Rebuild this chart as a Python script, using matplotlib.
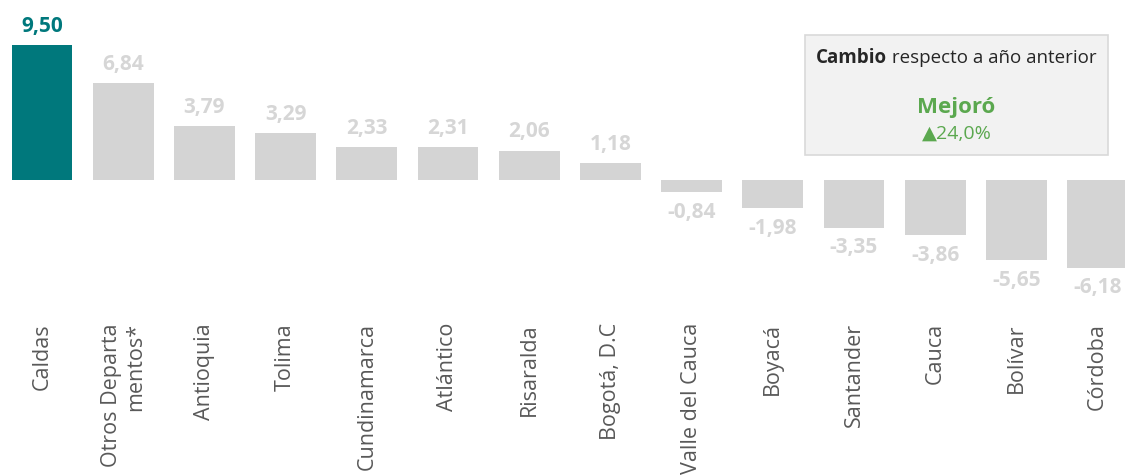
import matplotlib
matplotlib.use("Agg")
import matplotlib.pyplot as plt
from matplotlib.patches import Rectangle

plt.rcParams['font.family'] = ['Open Sans', 'DejaVu Sans']

departamentos = ["Caldas", "Otros Departa\nmentos*", "Antioquia", "Tolima", "Cundinamarca",
                 "Atlántico", "Risaralda", "Bogotá, D.C", "Valle del Cauca", "Boyacá",
                 "Santander", "Cauca", "Bolívar", "Córdoba"]
valores = [9.50, 6.84, 3.79, 3.29, 2.33, 2.31, 2.06, 1.18, -0.84, -1.98, -3.35, -3.86, -5.65, -6.18]
destacado = "Caldas"
cambio_texto = "Mejoró"
cambio_valor = "▲24,0%"

teal = "#00787C"
gris = "#D4D4D4"
gris_txt = "#D6D6D6"

fig = plt.figure(figsize=(11.25, 4.76), dpi=100)
ax = fig.add_axes([0, (476 - 312) / 476, 1, 312 / 476])

x = list(range(len(valores)))
colores = [teal if d == destacado else gris for d in departamentos]
ax.bar(x, valores, width=0.75, color=colores)

for xi, v, d in zip(x, valores, departamentos):
    c = teal if d == destacado else gris_txt
    txt = f"{v:.2f}".replace(".", ",")
    if v >= 0:
        ax.annotate(txt, (xi, v), xytext=(0, 6), textcoords="offset points",
                    ha="center", va="bottom", fontsize=15, fontweight="bold", color=c)
    else:
        ax.annotate(txt, (xi, v), xytext=(0, -7), textcoords="offset points",
                    ha="center", va="top", fontsize=15, fontweight="bold", color=c)

ax.set_xlim(-42 / 81.2, (1125 - 42) / 81.2)
ax.set_ylim(-132 / 14.2, 180 / 14.2)
ax.set_xticks(x)
ax.set_xticklabels(departamentos, rotation=90, fontsize=15.5, color="#595959",
                   va="top", ha="center", multialignment="right")
ax.tick_params(axis="x", length=0, pad=8)
ax.set_yticks([])
for s in ax.spines.values():
    s.set_visible(False)

# recuadro de cambio
bx0, by0, bw, bh = 805 / 1125, 1 - 155 / 476, 303 / 1125, 120 / 476
fig.patches.append(Rectangle((bx0, by0), bw, bh, transform=fig.transFigure,
                             facecolor="#F2F2F2", edgecolor="#D9D9D9", linewidth=1.2))
cx = bx0 + bw / 2
ty = 1 - 58 / 476
t1 = fig.text(0, ty, "Cambio", fontsize=13.5, fontweight="bold",
              color="#262626", ha="left", va="center")
t2 = fig.text(0, ty, " respecto a año anterior", fontsize=13.5,
              color="#262626", ha="left", va="center")
fig.canvas.draw()
r = fig.canvas.get_renderer()
w1 = t1.get_window_extent(r).width / 1125
w2 = t2.get_window_extent(r).width / 1125
x0 = cx - (w1 + w2) / 2
t1.set_x(x0)
t2.set_x(x0 + w1)
fig.text(cx, 1 - 108 / 476, cambio_texto, fontsize=16, fontweight="bold",
         color="#5BA84F", ha="center", va="center")
fig.text(cx, 1 - 134 / 476, cambio_valor, fontsize=14, color="#5BA84F",
         ha="center", va="center")

fig.savefig("out.png", dpi=100)
